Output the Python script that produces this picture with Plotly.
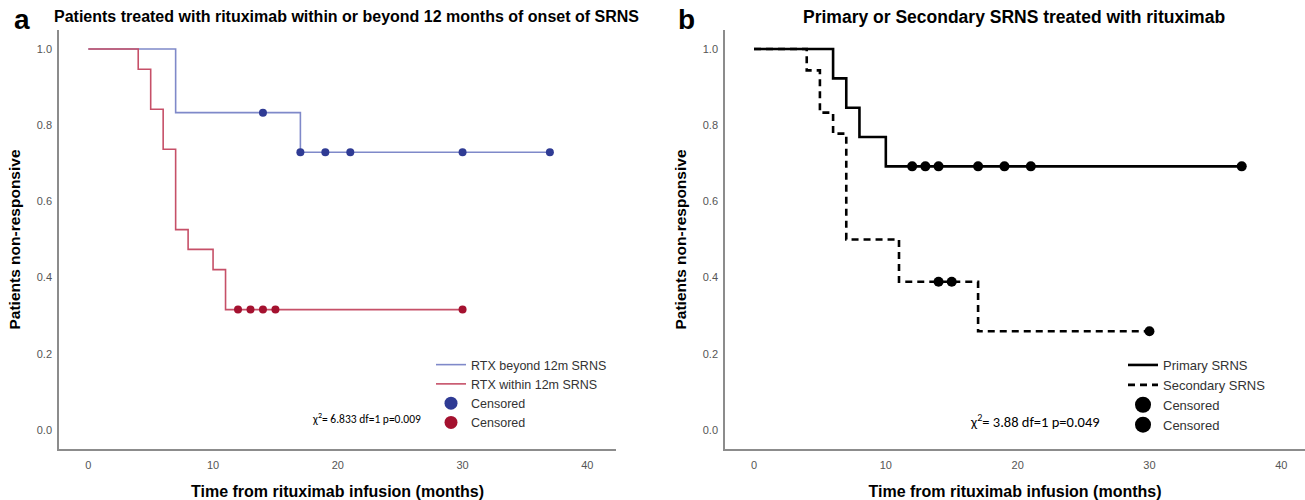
import numpy as np
import plotly.graph_objects as go

# ---------------- data ----------------
# Panel a: Kaplan-Meier steps
beyond_t = [0, 7, 17, 37]
beyond_s = [1.0, 0.833, 0.729, 0.729]
beyond_cens = [14, 17, 19, 21, 30, 37]

within_t = [0, 4, 5, 6, 7, 8, 10, 11, 30]
within_s = [1.0, 0.947, 0.842, 0.737, 0.526, 0.474, 0.421, 0.316, 0.316]
within_cens = [12, 13, 14, 15, 30]

# Panel b
primary_t = [0, 6, 7, 8, 10, 37]
primary_s = [1.0, 0.923, 0.846, 0.769, 0.692, 0.692]
primary_cens = [12, 13, 14, 17, 19, 21, 37]

secondary_t = [0, 4, 5, 6, 7, 11, 17, 30]
secondary_s = [1.0, 0.944, 0.833, 0.778, 0.5, 0.389, 0.259, 0.259]
secondary_cens = [14, 15, 30]

x_ticks = [0, 10, 20, 30, 40]
y_ticks = [0.0, 0.2, 0.4, 0.6, 0.8, 1.0]


def step_at(times, surv, tc):
    times = np.asarray(times)
    surv = np.asarray(surv)
    idx = np.searchsorted(times, tc, side="right") - 1
    return surv[idx]


W, H = 1305, 500
T, B = 30, 51
PH = H - T - B


def px(x):
    return x / W


def py(y):
    return (H - B - y) / PH


BLUE_L = "#7f89c9"
BLUE_M = "#2f3b94"
RED_L = "#c65068"
RED_M = "#a4112f"

fig = go.Figure()

# Panel a
fig.add_trace(go.Scatter(x=beyond_t, y=beyond_s, mode="lines", line=dict(shape="hv", color=BLUE_L, width=1.6),
                         name="RTX beyond 12m SRNS", xaxis="x", yaxis="y", legend="legend"))
fig.add_trace(go.Scatter(x=within_t, y=within_s, mode="lines", line=dict(shape="hv", color=RED_L, width=1.6),
                         name="RTX within 12m SRNS", xaxis="x", yaxis="y", legend="legend"))
fig.add_trace(go.Scatter(x=beyond_cens, y=step_at(beyond_t, beyond_s, beyond_cens), mode="markers",
                         marker=dict(color=BLUE_M, size=8), showlegend=False, xaxis="x", yaxis="y"))
fig.add_trace(go.Scatter(x=within_cens, y=step_at(within_t, within_s, within_cens), mode="markers",
                         marker=dict(color=RED_M, size=8), showlegend=False, xaxis="x", yaxis="y"))
fig.add_trace(go.Scatter(x=[None], y=[None], mode="markers", marker=dict(color=BLUE_M, size=13),
                         name="Censored", xaxis="x", yaxis="y", legend="legend"))
fig.add_trace(go.Scatter(x=[None], y=[None], mode="markers", marker=dict(color=RED_M, size=13),
                         name="Censored ", xaxis="x", yaxis="y", legend="legend"))

# Panel b
fig.add_trace(go.Scatter(x=primary_t, y=primary_s, mode="lines", line=dict(shape="hv", color="black", width=2.6),
                         name="Primary SRNS", xaxis="x2", yaxis="y2", legend="legend2"))
fig.add_trace(go.Scatter(x=secondary_t, y=secondary_s, mode="lines",
                         line=dict(shape="hv", color="black", width=2.6, dash="7px,5px"),
                         name="Secondary SRNS", xaxis="x2", yaxis="y2", legend="legend2"))
fig.add_trace(go.Scatter(x=primary_cens, y=step_at(primary_t, primary_s, primary_cens), mode="markers",
                         marker=dict(color="black", size=10), showlegend=False, xaxis="x2", yaxis="y2"))
fig.add_trace(go.Scatter(x=secondary_cens, y=step_at(secondary_t, secondary_s, secondary_cens), mode="markers",
                         marker=dict(color="black", size=10), showlegend=False, xaxis="x2", yaxis="y2"))
fig.add_trace(go.Scatter(x=[None], y=[None], mode="markers", marker=dict(color="black", size=16),
                         name="Censored", xaxis="x2", yaxis="y2", legend="legend2"))
fig.add_trace(go.Scatter(x=[None], y=[None], mode="markers", marker=dict(color="black", size=16),
                         name="Censored ", xaxis="x2", yaxis="y2", legend="legend2"))

AX_LINE = "#8c8c8c"
TICK_FONT = dict(family="Liberation Sans, Arial", size=11, color="#555555")
AXT_FONT = dict(family="Liberation Sans, Arial", size=16, color="black")

xcommon = dict(showline=True, linecolor=AX_LINE, linewidth=1.5, showgrid=False, zeroline=False,
               tickvals=x_ticks, ticks="outside", ticklen=5, tickcolor="rgba(0,0,0,0)", tickfont=TICK_FONT,
               title=dict(text="<b>Time from rituximab infusion (months)</b>", font=AXT_FONT, standoff=16))
ycommon = dict(showline=True, linecolor=AX_LINE, linewidth=1.5, showgrid=False, zeroline=False,
               tickvals=y_ticks, tickformat=".1f", ticks="outside", ticklen=3, tickcolor="rgba(0,0,0,0)",
               tickfont=TICK_FONT, range=[-0.05, 1.05],
               title=dict(text="<b>Patients non-responsive</b>", font=dict(AXT_FONT, size=15.5), standoff=12))

fig.update_layout(
    width=W, height=H,
    margin=dict(l=0, r=0, t=T, b=B),
    plot_bgcolor="white", paper_bgcolor="white",
    xaxis=dict(xcommon, domain=[px(59), px(616)], range=[-2.35, 42.3], anchor="y"),
    yaxis=dict(ycommon, domain=[0, 1], anchor="x"),
    xaxis2=dict(xcommon, domain=[px(725), 1.0], range=[-2.2, 41.8], anchor="y2"),
    yaxis2=dict(ycommon, domain=[0, 1], anchor="x2"),
    legend=dict(x=px(431), y=py(350), xanchor="left", yanchor="top", bgcolor="rgba(0,0,0,0)",
                font=dict(family="Liberation Sans, Arial", size=12.5, color="#333333"), tracegroupgap=0),
    legend2=dict(x=px(1123), y=py(350), xanchor="left", yanchor="top", bgcolor="rgba(0,0,0,0)",
                 font=dict(family="Liberation Sans, Arial", size=13, color="#333333"), tracegroupgap=0),
    showlegend=True,
)

fig.add_annotation(text="<b>a</b>", x=px(22), y=py(20), xref="paper", yref="paper", showarrow=False,
                   font=dict(family="Liberation Sans, Arial", size=28, color="black"), xanchor="center", yanchor="middle")
fig.add_annotation(text="<b>b</b>", x=px(686), y=py(20), xref="paper", yref="paper", showarrow=False,
                   font=dict(family="Liberation Sans, Arial", size=28, color="black"), xanchor="center", yanchor="middle")
fig.add_annotation(text="<b>Patients treated with rituximab within or beyond 12 months of onset of SRNS</b>",
                   x=px(346), y=py(17), xref="paper", yref="paper", showarrow=False,
                   font=dict(family="Liberation Sans, Arial", size=16, color="black"), xanchor="center", yanchor="middle")
fig.add_annotation(text="<b>Primary or Secondary SRNS treated with rituximab</b>",
                   x=px(1014), y=py(17), xref="paper", yref="paper", showarrow=False,
                   font=dict(family="Liberation Sans, Arial", size=17.5, color="black"), xanchor="center", yanchor="middle")
fig.add_annotation(text="χ<sup>2</sup>= 6.833 df=1 p=0.009", x=px(310), y=py(418), xref="paper", yref="paper",
                   showarrow=False, font=dict(family="Carlito, Liberation Sans, Arial", size=11.5, color="black"),
                   xanchor="left", yanchor="middle")
fig.add_annotation(text="χ<sup>2</sup>= 3.88 df=1 p=0.049", x=px(968), y=py(421), xref="paper", yref="paper",
                   showarrow=False, font=dict(family="Carlito, Liberation Sans, Arial", size=14.5, color="black"),
                   xanchor="left", yanchor="middle")

fig.write_html("out.html", config={"displayModeBar": False},
               post_script="document.body.style.margin='0px';document.body.style.overflow='hidden';")
